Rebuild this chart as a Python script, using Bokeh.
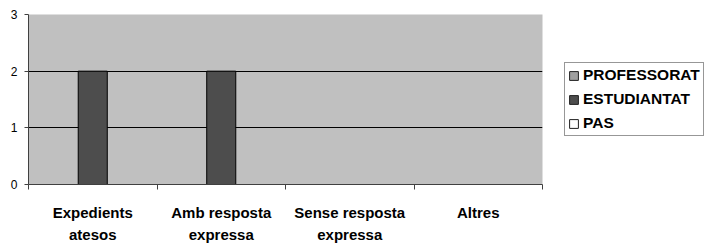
import numpy as np
from bokeh.plotting import figure
from bokeh.layouts import row
from bokeh.models import Range1d, FixedTicker, Legend, LegendItem, ColumnDataSource
from bokeh.embed import file_html
from bokeh.resources import INLINE

categories = ["Expedients atesos", "Amb resposta expressa", "Sense resposta expressa", "Altres"]
tick_labels = ["Expedients\natesos", "Amb resposta\nexpressa", "Sense resposta\nexpressa", "Altres"]
series_names = ["PROFESSORAT", "ESTUDIANTAT", "PAS"]
professorat = [0, 0, 0, 0]
estudiantat = [2, 2, 0, 0]
pas = [0, 0, 0, 0]
y_ticks = [0, 1, 2, 3]

series_values = [professorat, estudiantat, pas]
series_colors = ["#A0A0A0", "#4D4D4D", "#FFFFFF"]

FONT = "Liberation Sans"
AXIS_COLOR = "#404040"

n = len(categories)
centers = np.arange(n) + 0.5
bar_w = 0.226

p = figure(width=548, height=246, output_backend="svg", toolbar_location=None,
           x_range=Range1d(0, n), y_range=Range1d(0, 3),
           min_border_left=28, min_border_right=6, min_border_top=14, min_border_bottom=52)
p.background_fill_color = "#C0C0C0"
p.border_fill_color = "white"
p.outline_line_color = None

# legend panel: a separate figure to the right; its bars are squeezed so they sit under the legend box
pl = figure(width=160, height=246, output_backend="svg", toolbar_location=None,
            x_range=Range1d(0, n), y_range=Range1d(-10, 10),
            min_border_left=14, min_border_right=0, min_border_top=14, min_border_bottom=52)
pl.axis.visible = False
pl.grid.visible = False
pl.outline_line_color = None
pl.background_fill_color = "white"
pl.border_fill_color = "white"

swatches = []
for i, (vals, col) in enumerate(zip(series_values, series_colors)):
    src = ColumnDataSource(dict(x=centers + (i - 1) * bar_w, top=vals))
    p.vbar(x="x", top="top", bottom=0, width=bar_w, source=src,
           fill_color=col, line_color="black", line_width=1)
    swatches.append(pl.vbar(x="x", top="top", bottom=0, width=bar_w, source=src,
                            fill_color=col, line_color="#202020", line_width=1))

# grid
p.xgrid.visible = False
p.ygrid.ticker = FixedTicker(ticks=[1, 2])
p.ygrid.grid_line_color = "black"
p.ygrid.grid_line_width = 1

# y axis
p.yaxis.ticker = FixedTicker(ticks=y_ticks)
p.yaxis.axis_line_color = AXIS_COLOR
p.yaxis.major_tick_line_color = AXIS_COLOR
p.yaxis.major_tick_out = 4
p.yaxis.major_tick_in = 0
p.yaxis.minor_tick_line_color = None
p.yaxis.major_label_text_font = FONT
p.yaxis.major_label_text_font_size = "12px"
p.yaxis.major_label_text_color = "black"
p.yaxis.major_label_standoff = 7

# x axis
p.xaxis.ticker = FixedTicker(ticks=list(centers), minor_ticks=list(range(n + 1)))
p.xaxis.major_label_overrides = {float(c): lab for c, lab in zip(centers, tick_labels)}
p.xaxis.axis_line_color = AXIS_COLOR
p.xaxis.major_tick_line_color = None
p.xaxis.major_tick_out = 0
p.xaxis.major_tick_in = 0
p.xaxis.minor_tick_line_color = AXIS_COLOR
p.xaxis.minor_tick_out = 5
p.xaxis.minor_tick_in = 0
p.xaxis.major_label_text_font = FONT
p.xaxis.major_label_text_font_size = "15px"
p.xaxis.major_label_text_font_style = "bold"
p.xaxis.major_label_text_color = "black"
p.xaxis.major_label_text_line_height = 1.33
p.xaxis.major_label_standoff = 14

legend = Legend(items=[LegendItem(label=nm, renderers=[r]) for nm, r in zip(series_names, swatches)],
                location=(2, 48))
legend.border_line_color = "#303030"
legend.border_line_width = 1
legend.background_fill_color = "white"
legend.background_fill_alpha = 1
legend.label_text_font = FONT
legend.label_text_font_size = "15.5px"
legend.label_text_font_style = "bold"
legend.label_text_color = "black"
legend.glyph_width = 11
legend.glyph_height = 11
legend.label_height = 18
legend.label_standoff = 4
legend.spacing = 6
legend.padding = 3
legend.margin = 0
pl.add_layout(legend)

layout = row(p, pl, spacing=0)
open("out.html", "w").write(file_html(layout, INLINE))
